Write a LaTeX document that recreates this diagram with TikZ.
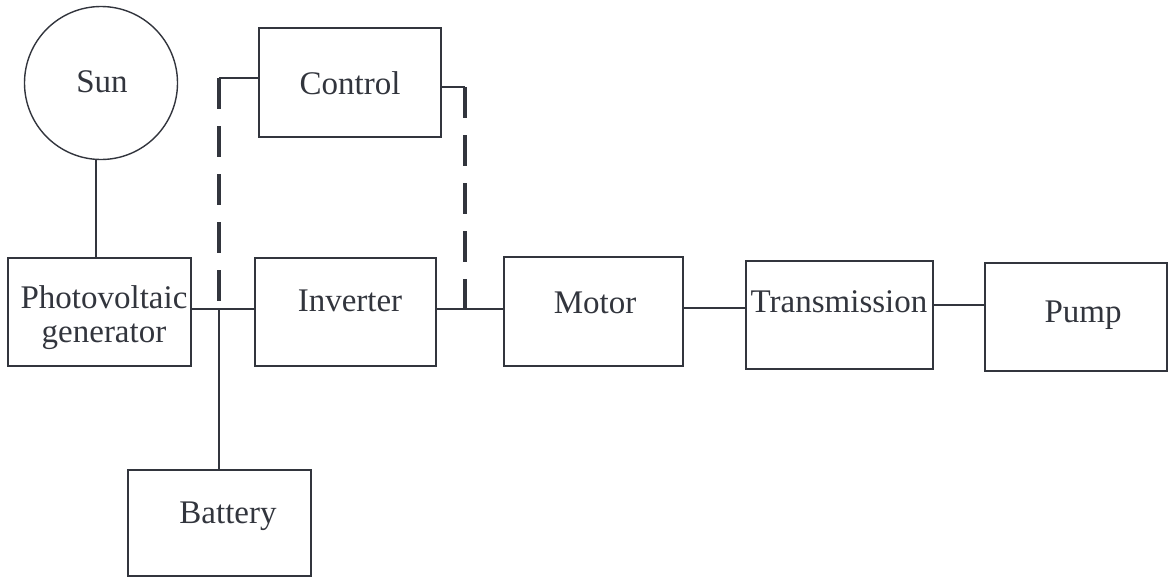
\documentclass[tikz,border=0pt]{standalone}
\usepackage{fontspec}
\setmainfont{Liberation Serif}
\definecolor{ink}{RGB}{50,53,61}
\begin{document}
\begin{tikzpicture}[x=1pt,y=-1pt,
  box/.style={draw=ink,line width=1.4pt,rectangle,inner sep=0pt},
  lbl/.style={text=ink,font=\fontsize{33}{34}\selectfont,inner sep=0pt,anchor=base},
  wire/.style={draw=ink,line width=1.4pt},
  ctl/.style={draw=ink,line width=3.4pt,dash pattern=on 31pt off 17pt}]
\useasboundingbox (0,0) rectangle (1170,579);
% blocks
\node[draw=ink,line width=1.4pt,circle,minimum size=153pt,inner sep=0pt] (sun) at (101,83) {};
\node[box,minimum width=183pt,minimum height=108pt] (pv) at (99.5,312) {};
\node[box,minimum width=181pt,minimum height=108pt] (inv) at (345.5,312) {};
\node[box,minimum width=182pt,minimum height=109pt] (ctrl) at (350,82.5) {};
\node[box,minimum width=179pt,minimum height=109pt] (mot) at (593.5,311.5) {};
\node[box,minimum width=187pt,minimum height=108pt] (tr) at (839.5,315) {};
\node[box,minimum width=182pt,minimum height=108pt] (pump) at (1076,317) {};
\node[box,minimum width=183pt,minimum height=106pt] (bat) at (219.5,523) {};
% labels
\node[lbl] (sunT) at (102,92) {Sun};
\node[lbl] (ctrlT) at (350,94) {Control};
\node[lbl,align=center,anchor=center] (pvT) at (104,318) {Photovoltaic\\generator};
\node[lbl] (invT) at (350,311) {Inverter};
\node[lbl] (motT) at (595,313) {Motor};
\node[lbl] (trT) at (839,312) {Transmission};
\node[lbl] (pumpT) at (1083,322) {Pump};
\node[lbl] (batT) at (228,523) {Battery};
% junction coordinates
\coordinate (j1) at (219,309);
\coordinate (j2) at (465,309);
\coordinate (c1) at (219,78);
\coordinate (c2) at (465,87);
% connectors
\draw[wire] ([xshift=-5pt]sun.south) -- ([xshift=-5pt]sun.south |- pv.north);
\draw[wire] (pv.east |- j1) -- (inv.west |- j1);
\draw[wire] (j1) -- (j1 |- bat.north);
\draw[wire] (inv.east |- j2) -- (mot.west |- j2);
\draw[wire] (mot.east |- 0,308) -- (tr.west |- 0,308);
\draw[wire] (tr.east |- 0,305) -- (pump.west |- 0,305);
\draw[wire] (ctrl.west |- c1) -- (c1);
\draw[wire] (ctrl.east |- c2) -- (c2);
\draw[ctl] (c1) -- (j1);
\draw[ctl] (c2) -- (j2);
\end{tikzpicture}
\end{document}
